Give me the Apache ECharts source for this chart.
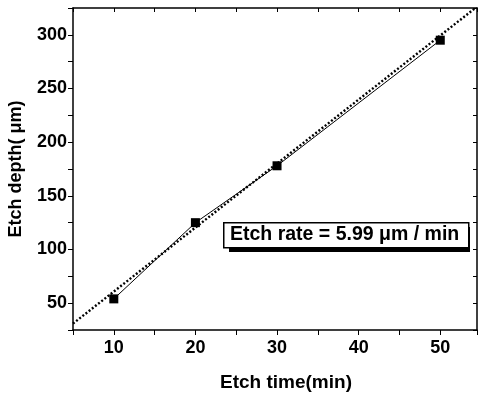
<!DOCTYPE html>
<html><head><meta charset="utf-8">
<script src="https://cdn.jsdelivr.net/npm/echarts@6/dist/echarts.min.js"></script>
<style>html,body{margin:0;padding:0;background:#fff}#c{width:479px;height:394px}</style>
</head><body><div id="c"></div>
<script>
var etchTime = [10, 20, 30, 50];
var etchDepth = [54, 125, 178, 295];
var fitTime = [5, 54.3];
var fitDepth = [31, 325];
var xTicks = [10, 20, 30, 40, 50];
var yTicks = [50, 100, 150, 200, 250, 300];
var rateLabel = 'Etch rate = 5.99';
var rateUnit = 'μm';
var rateTail = ' / min';

var font = '"Liberation Sans", Arial, sans-serif';
var chart = echarts.init(document.getElementById('c'), null, {renderer: 'canvas'});
function pairs(a, b){ return a.map(function(v,i){ return [v, b[i]]; }); }
var axisCommon = {
  axisLine: {show: true, lineStyle: {color: '#000', width: 1.5}},
  splitLine: {show: false}
};
chart.setOption({
  animation: false,
  grid: {left: 73, right: 2, top: 8, bottom: 64, containLabel: false, outerBoundsMode: 'none'},
  xAxis: [
    Object.assign({type: 'value', min: 5, max: 54.5, interval: 5, position: 'bottom',
      name: 'Etch time(min)', nameLocation: 'middle', nameGap: 43,
      nameTextStyle: {fontFamily: font, fontWeight: 'bold', fontSize: 19, color: '#000', padding: [0, 0, 0, 22]},
      axisTick: {show: true, length: 5, inside: false, lineStyle: {color: '#000', width: 1}},
      axisLabel: {margin: 9, fontFamily: font, fontWeight: 'bold', fontSize: 18, color: '#000',
        formatter: function(v){ return xTicks.indexOf(v) >= 0 ? String(v) : ''; }}
    }, axisCommon),
    Object.assign({type: 'value', min: 5, max: 54.5, interval: 5, position: 'top',
      axisTick: {show: true, length: 4, inside: true, lineStyle: {color: '#000', width: 1}},
      axisLabel: {show: false}
    }, axisCommon)
  ],
  yAxis: [
    Object.assign({type: 'value', min: 25, max: 325, interval: 25, position: 'left',
      name: 'Etch depth( μm)', nameLocation: 'middle', nameGap: 48, nameRotate: 90,
      nameTextStyle: {fontFamily: font, fontWeight: 'bold', fontSize: 18, color: '#000'},
      axisTick: {show: true, length: 5, inside: false, lineStyle: {color: '#000', width: 1}},
      axisLabel: {margin: 6, fontFamily: font, fontWeight: 'bold', fontSize: 18, color: '#000',
        formatter: function(v){ return yTicks.indexOf(v) >= 0 ? String(v) : ''; }}
    }, axisCommon),
    Object.assign({type: 'value', min: 25, max: 325, interval: 25, position: 'right',
      axisTick: {show: true, length: 4, inside: true, lineStyle: {color: '#000', width: 1}},
      axisLabel: {show: false}
    }, axisCommon)
  ],
  series: [
    {type: 'line', data: pairs(fitTime, fitDepth), symbol: 'none', silent: true,
      lineStyle: {color: '#000', width: 2.4, type: [2, 2]}},
    {type: 'line', data: pairs(etchTime, etchDepth), symbol: 'rect', symbolSize: 9,
      itemStyle: {color: '#000'}, lineStyle: {color: '#000', width: 1}}
  ],
  graphic: [
    {type: 'rect', left: 229, top: 227, shape: {width: 241, height: 25}, style: {fill: '#000'}, z: 10},
    {type: 'rect', left: 223, top: 222, shape: {width: 245, height: 25}, style: {fill: '#fff', stroke: '#000', lineWidth: 1.5}, z: 11},
    {type: 'text', left: 230, top: 225, z: 12,
      style: {text: '{a|' + rateLabel + '}{b| ' + rateUnit + '}{a|' + rateTail + '}',
        rich: {a: {fontFamily: font, fontWeight: 'bold', fontSize: 19.5, fill: '#000'},
               b: {fontFamily: font, fontWeight: 'bold', fontSize: 19.5, fill: '#000'}}}}
  ]
});
</script></body></html>
